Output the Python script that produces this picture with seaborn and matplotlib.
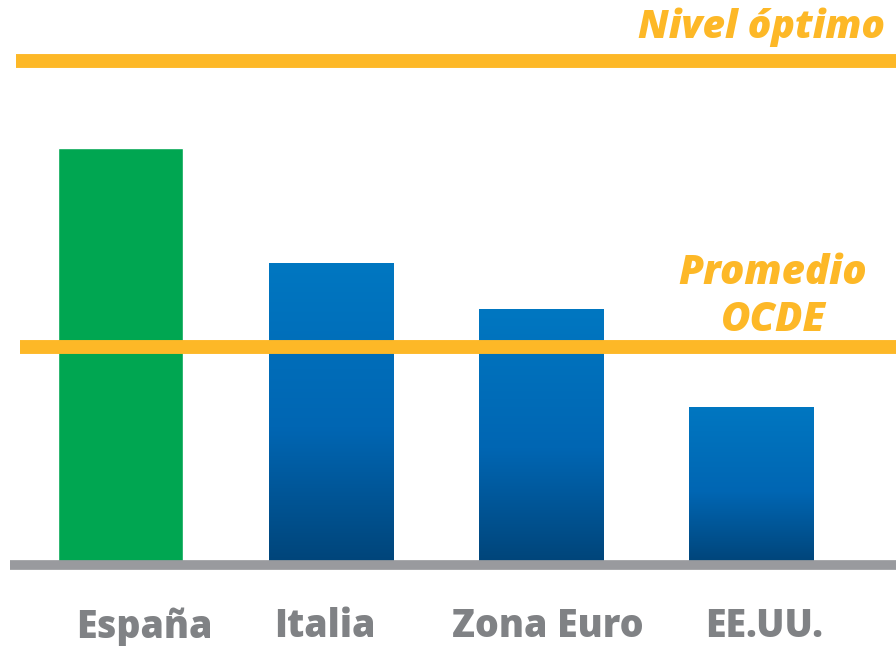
import numpy as np
import pandas as pd
import matplotlib
matplotlib.use("Agg")
import matplotlib.pyplot as plt
from matplotlib.colors import LinearSegmentedColormap
import seaborn as sns

# -----------------------------
# Data (arbitrary units, optimum = 100)
# -----------------------------
paises = ["España", "Italia", "Zona Euro", "EE.UU."]
valores = [82.7, 59.7, 50.5, 31.0]
nivel_optimo = 100.0
promedio_ocde = 43.0

colores = ["#00A651", "#0072BC", "#0072BC", "#0072BC"]
naranja = "#FDB827"
gris = "#999A9E"
gris_texto = "#808285"

# small horizontal nudges for the category labels (as in the original layout)
desplaz_etiquetas = [0.11, -0.03, 0.03, 0.06]

df = pd.DataFrame({"pais": paises, "valor": valores})

# -----------------------------
# Figure
# -----------------------------
sns.set_theme(style="white")
plt.rcParams["font.family"] = ["Open Sans", "DejaVu Sans"]

fig = plt.figure(figsize=(8.96, 6.46), dpi=100)
ax = fig.add_axes([0, 0, 1, 1])

sns.barplot(data=df, x="pais", y="valor", hue="pais", palette=colores,
            width=0.595, legend=False, ax=ax, saturation=1)

# gradient on the blue bars
cmap = LinearSegmentedColormap.from_list(
    "azul", [(0.0, "#00457A"), (0.45, "#0066B3"), (1.0, "#0077C1")])
grad = np.linspace(0, 1, 256).reshape(-1, 1)
for i, bar in enumerate(ax.patches):
    if i == 0:
        continue
    x0, y0 = bar.get_x(), bar.get_y()
    w, h = bar.get_width(), bar.get_height()
    im = ax.imshow(grad, cmap=cmap, origin="lower", aspect="auto",
                   extent=[x0, x0 + w, y0, y0 + h], zorder=bar.get_zorder())
    im.set_clip_path(bar)
    bar.set_facecolor("none")

ax.set_xlim(-0.576, 3.69)
ax.set_ylim(-16.8, 112.2)
ax.axis("off")

# reference lines
ax.plot([-0.5, 3.69], [nivel_optimo, nivel_optimo], color=naranja, lw=10,
        solid_capstyle="butt", zorder=5)
ax.plot([-0.48, 3.69], [promedio_ocde, promedio_ocde], color=naranja, lw=10,
        solid_capstyle="butt", zorder=5)
ax.plot([-0.53, 3.69], [-0.6, -0.6], color=gris, lw=7,
        solid_capstyle="butt", zorder=6)

ax.text(3.64, 106.8, "Nivel óptimo", color=naranja, fontsize=28,
        fontweight="heavy", fontstyle="italic", ha="right", va="center")
ax.text(3.105, 52.9, "Promedio\nOCDE", color=naranja, fontsize=29,
        fontweight="heavy", fontstyle="italic", ha="center", va="center",
        linespacing=1.2)

# category labels
for i, p in enumerate(paises):
    ax.text(i + desplaz_etiquetas[i], -13.0, p, color=gris_texto, fontsize=27,
            fontweight="heavy", ha="center", va="center")

fig.savefig("out.png", dpi=100)
